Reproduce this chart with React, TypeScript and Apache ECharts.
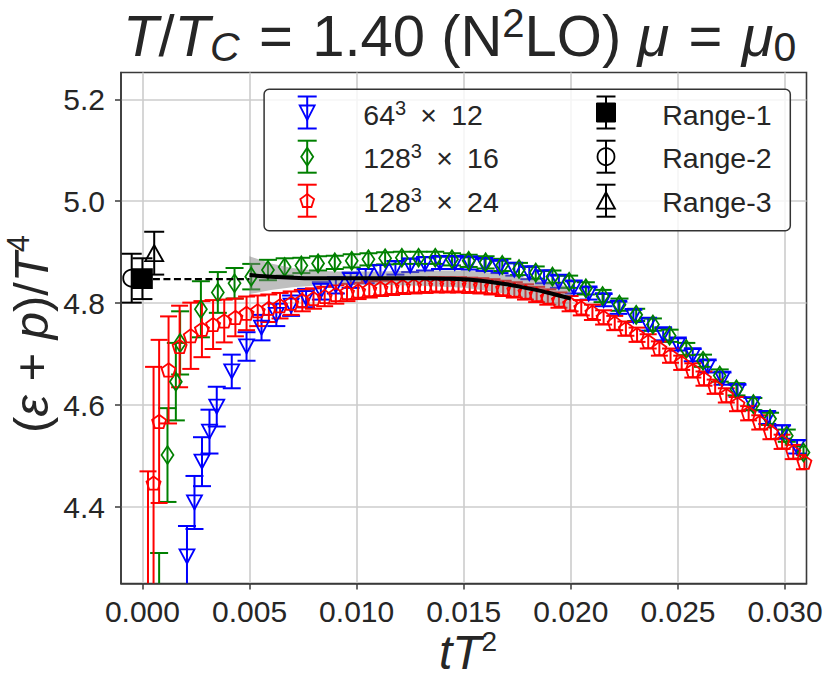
import React, { useEffect, useRef } from 'react';
import * as echarts from 'echarts';

// ---------------- data ----------------
const blueX = [0.00208, 0.00243, 0.00278, 0.00313, 0.00347, 0.00417, 0.00486, 0.00556, 0.00625, 0.00694,
  0.00764, 0.00833, 0.00903, 0.00972, 0.01042, 0.01111, 0.01181, 0.0125, 0.01319, 0.01389,
  0.01458, 0.01528, 0.01597, 0.01667, 0.01736, 0.01806, 0.01875, 0.01944, 0.02014, 0.02083,
  0.02153, 0.02222, 0.02292, 0.02361, 0.02431, 0.025, 0.02569, 0.02639, 0.02708, 0.02778,
  0.02847, 0.02917, 0.02986, 0.03056, 0.03125];
const blueY = [4.303, 4.409, 4.489, 4.548, 4.597, 4.666, 4.715, 4.752, 4.777, 4.795,
  4.810, 4.824, 4.835, 4.845, 4.853, 4.861, 4.869, 4.874, 4.877, 4.879,
  4.879, 4.878, 4.875, 4.871, 4.866, 4.859, 4.851, 4.842, 4.831, 4.819,
  4.806, 4.791, 4.775, 4.758, 4.739, 4.719, 4.698, 4.676, 4.652, 4.628,
  4.602, 4.575, 4.547, 4.518, 4.488];
const blueErr = [0.06, 0.052, 0.048, 0.043, 0.039, 0.033, 0.028, 0.025, 0.022, 0.02,
  0.018, 0.017, 0.016, 0.015, 0.014, 0.014, 0.013, 0.013, 0.013, 0.012,
  0.012, 0.012, 0.012, 0.012, 0.012, 0.012, 0.012, 0.012, 0.012, 0.012,
  0.012, 0.012, 0.012, 0.012, 0.012, 0.012, 0.012, 0.012, 0.012, 0.012,
  0.012, 0.012, 0.013, 0.013, 0.013];

const greenX = [0.00078, 0.00117, 0.00156, 0.00176, 0.00273, 0.00352, 0.0043, 0.00508, 0.00586, 0.00664,
  0.00742, 0.0082, 0.00898, 0.00977, 0.01055, 0.01133, 0.01211, 0.01289, 0.01367, 0.01445,
  0.01523, 0.01602, 0.0168, 0.01758, 0.01836, 0.01914, 0.01992, 0.0207, 0.02148, 0.02227,
  0.02305, 0.02383, 0.02461, 0.02539, 0.02617, 0.02695, 0.02773, 0.02852, 0.0293, 0.03008,
  0.03086];
const greenY = [4.20, 4.502, 4.646, 4.722, 4.788, 4.821, 4.839, 4.852, 4.865, 4.871,
  4.874, 4.878, 4.880, 4.883, 4.886, 4.888, 4.889, 4.889, 4.889, 4.886,
  4.883, 4.880, 4.875, 4.867, 4.860, 4.852, 4.842, 4.829, 4.814, 4.797,
  4.777, 4.758, 4.736, 4.710, 4.687, 4.658, 4.631, 4.602, 4.573, 4.540,
  4.507];
const greenErr = [0.11, 0.092, 0.076, 0.062, 0.055, 0.04, 0.03, 0.025, 0.02, 0.017,
  0.015, 0.014, 0.013, 0.013, 0.012, 0.012, 0.012, 0.012, 0.012, 0.012,
  0.012, 0.012, 0.012, 0.012, 0.012, 0.012, 0.012, 0.012, 0.012, 0.012,
  0.012, 0.012, 0.012, 0.012, 0.012, 0.012, 0.012, 0.012, 0.012, 0.012,
  0.012];

const redX = [0.00026, 0.00052, 0.00078, 0.00122,
  0.001736, 0.002257, 0.002778, 0.003299, 0.003819, 0.00434, 0.004861, 0.005382, 0.005903, 0.006424,
  0.006944, 0.007465, 0.007986, 0.008507, 0.009028, 0.009549, 0.010069, 0.01059, 0.011111, 0.011632,
  0.012153, 0.012674, 0.013194, 0.013715, 0.014236, 0.014757, 0.015278, 0.015799, 0.016319, 0.01684,
  0.017361, 0.017882, 0.018403, 0.018924, 0.019444, 0.019965, 0.020486, 0.021007, 0.021528, 0.022049,
  0.022569, 0.02309, 0.023611, 0.024132, 0.024653, 0.025174, 0.025694, 0.026215, 0.026736, 0.027257,
  0.027778, 0.028299, 0.028819, 0.02934, 0.029861, 0.030382, 0.030903];
const redY = [4.17, 4.447, 4.568, 4.669,
  4.715, 4.736, 4.749, 4.758, 4.765, 4.772, 4.780, 4.785, 4.790, 4.795,
  4.800, 4.805, 4.809, 4.813, 4.817, 4.821, 4.824, 4.827, 4.829, 4.831,
  4.833, 4.834, 4.835, 4.836, 4.836, 4.836, 4.835, 4.834, 4.832, 4.829,
  4.826, 4.822, 4.817, 4.812, 4.806, 4.799, 4.791, 4.782, 4.772, 4.761,
  4.750, 4.738, 4.725, 4.711, 4.697, 4.683, 4.668, 4.652, 4.636, 4.619,
  4.602, 4.584, 4.566, 4.547, 4.528, 4.508, 4.488];
const redErr = [0.30, 0.228, 0.16, 0.105,
  0.08, 0.065, 0.055, 0.048, 0.042, 0.037, 0.033, 0.030, 0.027, 0.025,
  0.023, 0.021, 0.020, 0.019, 0.018, 0.017, 0.016, 0.016, 0.015, 0.015,
  0.015, 0.015, 0.015, 0.015, 0.015, 0.015, 0.015, 0.015, 0.015, 0.015,
  0.015, 0.015, 0.015, 0.015, 0.015, 0.015, 0.015, 0.015, 0.014, 0.014,
  0.014, 0.014, 0.014, 0.014, 0.014, 0.014, 0.014, 0.014, 0.014, 0.014,
  0.014, 0.014, 0.014, 0.014, 0.014, 0.014, 0.014];

const fitX = [0.005, 0.006, 0.007, 0.008, 0.009, 0.010, 0.011, 0.012, 0.013, 0.014, 0.015, 0.016, 0.017, 0.018, 0.019, 0.020];
const fitY = [4.855, 4.852, 4.850, 4.849, 4.849, 4.849, 4.849, 4.849, 4.849, 4.848, 4.847, 4.843, 4.837, 4.829, 4.820, 4.809];
const fitBand = [0.037, 0.026, 0.019, 0.015, 0.013, 0.013, 0.013, 0.014, 0.015, 0.016, 0.017, 0.018, 0.019, 0.020, 0.021, 0.022];

const dashX = [0.0, 0.005];
const dashY = [4.847, 4.847];

const range1 = { x: 0.0, y: 4.848, err: 0.04 };
const range2 = { x: -0.0005, y: 4.849, err: 0.048 };
const range3 = { x: 0.00055, y: 4.898, err: 0.042 };

const xTicks = [0, 0.005, 0.01, 0.015, 0.02, 0.025, 0.03];
const yTicks = [4.4, 4.6, 4.8, 5.0, 5.2];

const seriesNames = ['64³ × 12', '128³ × 16', '128³ × 24', 'Range-1', 'Range-2', 'Range-3'];

// ---------------- styles ----------------
const FONT = "'Liberation Sans', Arial, Helvetica, sans-serif";
const INK = '#262626';
const BLUE = '#0000ff';
const GREEN = '#008000';
const RED = '#ff0000';
const BLACK = '#000000';
const PENTAGON = 'path://M0,-1 L0.951,-0.309 L0.588,0.809 L-0.588,0.809 L-0.951,-0.309 Z';

function errorBars(name: string, data: number[][], color: string, capHalf: number) {
  return {
    type: 'custom',
    name,
    data,
    clip: true,
    silent: true,
    encode: { x: 0, y: 1 },
    renderItem: (params: any, api: any) => {
      const x = api.value(0);
      const y = api.value(1);
      const e = api.value(2);
      const pTop = api.coord([x, y + e]);
      const pBot = api.coord([x, y - e]);
      const cs = params.coordSys;
      const left = cs.x, right = cs.x + cs.width, top = cs.y, bottom = cs.y + cs.height;
      const px = pTop[0];
      if (px < left - 0.5 || px > right + 0.5) return null;
      const y1 = Math.max(pTop[1], top);
      const y2 = Math.min(pBot[1], bottom);
      if (y1 >= y2) return null;
      const style = { stroke: color, lineWidth: 2, fill: 'none' };
      const children: any[] = [{ type: 'line', shape: { x1: px, y1, x2: px, y2 }, style }];
      const cl = Math.max(left, px - capHalf);
      const cr = Math.min(right, px + capHalf);
      if (pTop[1] >= top && pTop[1] <= bottom) {
        children.push({ type: 'line', shape: { x1: cl, y1: pTop[1], x2: cr, y2: pTop[1] }, style });
      }
      if (pBot[1] >= top && pBot[1] <= bottom) {
        children.push({ type: 'line', shape: { x1: cl, y1: pBot[1], x2: cr, y2: pBot[1] }, style });
      }
      return { type: 'group', children };
    },
  };
}

function markers(name: string, data: number[][], symbol: string, size: number[], color: string, fill: string, rotate = 0) {
  return {
    type: 'scatter',
    name,
    data,
    symbol,
    symbolSize: size,
    symbolRotate: rotate,
    clip: true,
    silent: true,
    itemStyle: { color: fill, borderColor: color, borderWidth: 1.8, opacity: 1 },
  };
}

// legend icon helpers (pure layout)
function legendErr(x: number, y: number, color: string) {
  const st = { stroke: color, lineWidth: 2, fill: 'none' };
  return [
    { type: 'line', z: 101, shape: { x1: x, y1: y - 16, x2: x, y2: y + 16 }, style: st },
    { type: 'line', z: 101, shape: { x1: x - 9.5, y1: y - 16, x2: x + 9.5, y2: y - 16 }, style: st },
    { type: 'line', z: 101, shape: { x1: x - 9.5, y1: y + 16, x2: x + 9.5, y2: y + 16 }, style: st },
  ];
}
function pentPts(x: number, y: number, r: number) {
  const pts: number[][] = [];
  for (let k = 0; k < 5; k++) {
    const a = -Math.PI / 2 + (k * 2 * Math.PI) / 5;
    pts.push([x + r * Math.cos(a), y + r * Math.sin(a)]);
  }
  return pts;
}

const App: React.FC = () => {
  const ref = useRef<HTMLDivElement>(null);

  useEffect(() => {
    document.body.style.margin = '0';
    if (!ref.current) return;
    const chart = echarts.init(ref.current, null, { renderer: 'svg' });

    const blueData = blueX.map((x, i) => [x, blueY[i], blueErr[i]]);
    const greenData = greenX.map((x, i) => [x, greenY[i], greenErr[i]]);
    const redData = redX.map((x, i) => [x, redY[i], redErr[i]]);
    const bandData = fitX.map((x, i) => [x, fitY[i] - fitBand[i], fitY[i] + fitBand[i]]);
    const fitData = fitX.map((x, i) => [x, fitY[i]]);
    const dashData = dashX.map((x, i) => [x, dashY[i]]);

    const col1 = 307.2, col2 = 606;
    const rows = [112.5, 156.7, 200.7];
    const textRows = [115.3, 157.8, 202.3];
    const mk = { fill: 'none', lineWidth: 1.8 };

    const legendTextStyle = (text: string, x: number, y: number) => ({
      type: 'text', z: 101, x, y,
      style: {
        text, x: 0, y: 0,
        fontFamily: FONT, fontSize: 28.5, fill: INK, lineHeight: 34,
        align: 'left', verticalAlign: 'middle', textAlign: 'left', textVerticalAlign: 'middle',
        rich: {
          sp: { fontFamily: FONT, fontSize: 20, fill: INK, color: INK, lineHeight: 17, verticalAlign: 'top' },
        },
      },
    });

    const legendChildren: any[] = [
      { type: 'rect', z: 100, shape: { x: 264.1, y: 89.3, width: 526.2, height: 141.4, r: 5 },
        style: { fill: 'rgba(255,255,255,0.8)', stroke: '#333333', lineWidth: 1.5 } },
      ...legendErr(col1, rows[0], BLUE),
      { type: 'polygon', z: 102, shape: { points: [[col1 - 7.5, rows[0] - 7], [col1 + 7.5, rows[0] - 7], [col1, rows[0] + 7.5]] }, style: { ...mk, stroke: BLUE } },
      ...legendErr(col1, rows[1], GREEN),
      { type: 'polygon', z: 102, shape: { points: [[col1, rows[1] - 9], [col1 + 6, rows[1]], [col1, rows[1] + 9], [col1 - 6, rows[1]]] }, style: { ...mk, stroke: GREEN } },
      ...legendErr(col1, rows[2], RED),
      { type: 'polygon', z: 102, shape: { points: pentPts(col1, rows[2] + 0.5, 7.2) }, style: { ...mk, stroke: RED } },
      ...legendErr(col2, rows[0], BLACK),
      { type: 'rect', z: 102, shape: { x: col2 - 9.5, y: rows[0] - 9.5, width: 19, height: 19 }, style: { fill: BLACK, stroke: BLACK, lineWidth: 1 } },
      ...legendErr(col2, rows[1], BLACK),
      { type: 'circle', z: 102, shape: { cx: col2, cy: rows[1], r: 8.5 }, style: { ...mk, stroke: BLACK } },
      ...legendErr(col2, rows[2], BLACK),
      { type: 'polygon', z: 102, shape: { points: [[col2, rows[2] - 8.5], [col2 + 9, rows[2] + 8], [col2 - 9, rows[2] + 8]] }, style: { ...mk, stroke: BLACK } },
      legendTextStyle('64{sp|3}\u2002×\u200212', 363.3, textRows[0]),
      legendTextStyle('128{sp|3}\u2002×\u200216', 363.3, textRows[1]),
      legendTextStyle('128{sp|3}\u2002×\u200224', 363.3, textRows[2]),
      legendTextStyle(seriesNames[3], 662.2, textRows[0]),
      legendTextStyle(seriesNames[4], 662.2, textRows[1]),
      legendTextStyle(seriesNames[5], 662.2, textRows[2]),
    ];

    const option: any = {
      animation: false,
      backgroundColor: '#ffffff',
      title: {
        text: '{i|T}/{i|T}{sc|C}\u2004=\u20041.40 (N{sp|2}LO) {i|μ}\u2004=\u2004{i|μ}{sb|0}',
        left: 123,
        top: 3,
        padding: 0,
        textStyle: {
          fontFamily: FONT, fontSize: 58, fontWeight: 'normal', color: INK, lineHeight: 64,
          rich: {
            i: { fontFamily: FONT, fontSize: 58, fontStyle: 'italic', color: INK, lineHeight: 64 },
            sc: { fontFamily: FONT, fontSize: 41, fontStyle: 'italic', color: INK, lineHeight: 35, verticalAlign: 'bottom' },
            sb: { fontFamily: FONT, fontSize: 41, color: INK, lineHeight: 35, verticalAlign: 'bottom' },
            sp: { fontFamily: FONT, fontSize: 40, color: INK, lineHeight: 46, verticalAlign: 'top' },
          },
        },
      },
      grid: {
        left: 121, right: 24.5, top: 72.5, bottom: 98.5,
        show: true, borderColor: '#3a3a3a', borderWidth: 1.6, backgroundColor: 'transparent',
      },
      xAxis: {
        type: 'value', min: -0.001, max: 0.031, splitNumber: 6,
        axisLine: { show: true, onZero: false, lineStyle: { color: '#3a3a3a', width: 1.6 } },
        axisTick: { show: true, customValues: xTicks, length: 6, lineStyle: { color: '#3a3a3a', width: 1.5 } },
        axisLabel: { customValues: xTicks, formatter: (v: number) => v.toFixed(3), fontSize: 30, lineHeight: 24, fontFamily: FONT, color: INK, margin: 15.5 },
        splitLine: { show: true, lineStyle: { color: '#cccccc', width: 1.6 } },
      },
      yAxis: {
        type: 'value', min: 4.25, max: 5.2525, splitNumber: 5,
        axisLine: { show: true, onZero: false, lineStyle: { color: '#3a3a3a', width: 1.6 } },
        axisTick: { show: true, customValues: yTicks, length: 6, lineStyle: { color: '#3a3a3a', width: 1.5 } },
        axisLabel: { customValues: yTicks, formatter: (v: number) => v.toFixed(1), fontSize: 30, fontFamily: FONT, color: INK, margin: 16 },
        splitLine: { show: true, lineStyle: { color: '#cccccc', width: 1.6 } },
      },
      series: [
        errorBars(seriesNames[0], blueData, BLUE, 9),
        markers(seriesNames[0], blueData.map((d) => [d[0], d[1]]), 'triangle', [15, 14], BLUE, 'rgba(0,0,0,0)', 180),
        errorBars(seriesNames[1], greenData, GREEN, 9),
        markers(seriesNames[1], greenData.map((d) => [d[0], d[1]]), 'diamond', [12, 18], GREEN, 'rgba(0,0,0,0)'),
        errorBars(seriesNames[2], redData, RED, 8.5),
        markers(seriesNames[2], redData.map((d) => [d[0], d[1]]), PENTAGON, [14, 13.3], RED, 'rgba(0,0,0,0)'),
        {
          type: 'custom',
          name: 'band',
          data: bandData,
          silent: true,
          encode: { x: 0, y: 1 },
          renderItem: (params: any, api: any) => {
            if (params.dataIndex !== 0) return null;
            const upper = bandData.map((d) => api.coord([d[0], d[2]]));
            const lower = bandData.map((d) => api.coord([d[0], d[1]])).reverse();
            return {
              type: 'polygon',
              shape: { points: upper.concat(lower) },
              style: { fill: 'rgba(128,128,128,0.5)', stroke: 'none' },
            };
          },
        },
        {
          type: 'line', name: 'fit', data: fitData, symbol: 'none', showSymbol: false, smooth: 0.3, silent: true,
          lineStyle: { color: BLACK, width: 4 },
        },
        {
          type: 'line', name: 'dash', data: dashData, symbol: 'none', showSymbol: false, silent: true,
          lineStyle: { color: BLACK, width: 2.3, type: [7, 3.5] },
        },
        errorBars(seriesNames[4], [[range2.x, range2.y, range2.err]], BLACK, 10),
        markers(seriesNames[4], [[range2.x, range2.y]], 'circle', [17, 17], BLACK, 'rgba(0,0,0,0)'),
        errorBars(seriesNames[3], [[range1.x, range1.y, range1.err]], BLACK, 10),
        markers(seriesNames[3], [[range1.x, range1.y]], 'rect', [19, 19], BLACK, BLACK),
        errorBars(seriesNames[5], [[range3.x, range3.y, range3.err]], BLACK, 10),
        markers(seriesNames[5], [[range3.x, range3.y]], 'triangle', [18, 16], BLACK, 'rgba(0,0,0,0)'),
      ],
      graphic: [
        { type: 'group', z: 100, children: legendChildren },
        {
          type: 'text', z: 50, x: 31, y: 334, rotation: Math.PI / 2,
          style: {
            text: '({i|ε} + {i|p})/{i|T}{sp|4}', x: 0, y: 0,
            fontFamily: FONT, fontSize: 49, fill: INK, lineHeight: 56,
            align: 'center', verticalAlign: 'middle', textAlign: 'center', textVerticalAlign: 'middle',
            rich: {
              i: { fontFamily: FONT, fontSize: 49, fontStyle: 'italic', fill: INK, color: INK, lineHeight: 56 },
              sp: { fontFamily: FONT, fontSize: 31, fill: INK, color: INK, lineHeight: 31, verticalAlign: 'top' },
            },
          },
        },
        {
          type: 'text', z: 50, x: 468, y: 627.1,
          style: {
            text: '{i|tT}{sp|2}', x: 0, y: 0,
            fontFamily: FONT, fontSize: 48, fill: INK, lineHeight: 50,
            align: 'center', verticalAlign: 'top', textAlign: 'center', textVerticalAlign: 'top',
            rich: {
              i: { fontFamily: FONT, fontSize: 48, fontStyle: 'italic', fill: INK, color: INK, lineHeight: 50 },
              sp: { fontFamily: FONT, fontSize: 28, fill: INK, color: INK, lineHeight: 33, verticalAlign: 'top' },
            },
          },
        },
      ],
    };

    chart.setOption(option);
    return () => chart.dispose();
  }, []);

  return <div ref={ref} style={{ width: 831, height: 682 }} />;
};

export default App;
